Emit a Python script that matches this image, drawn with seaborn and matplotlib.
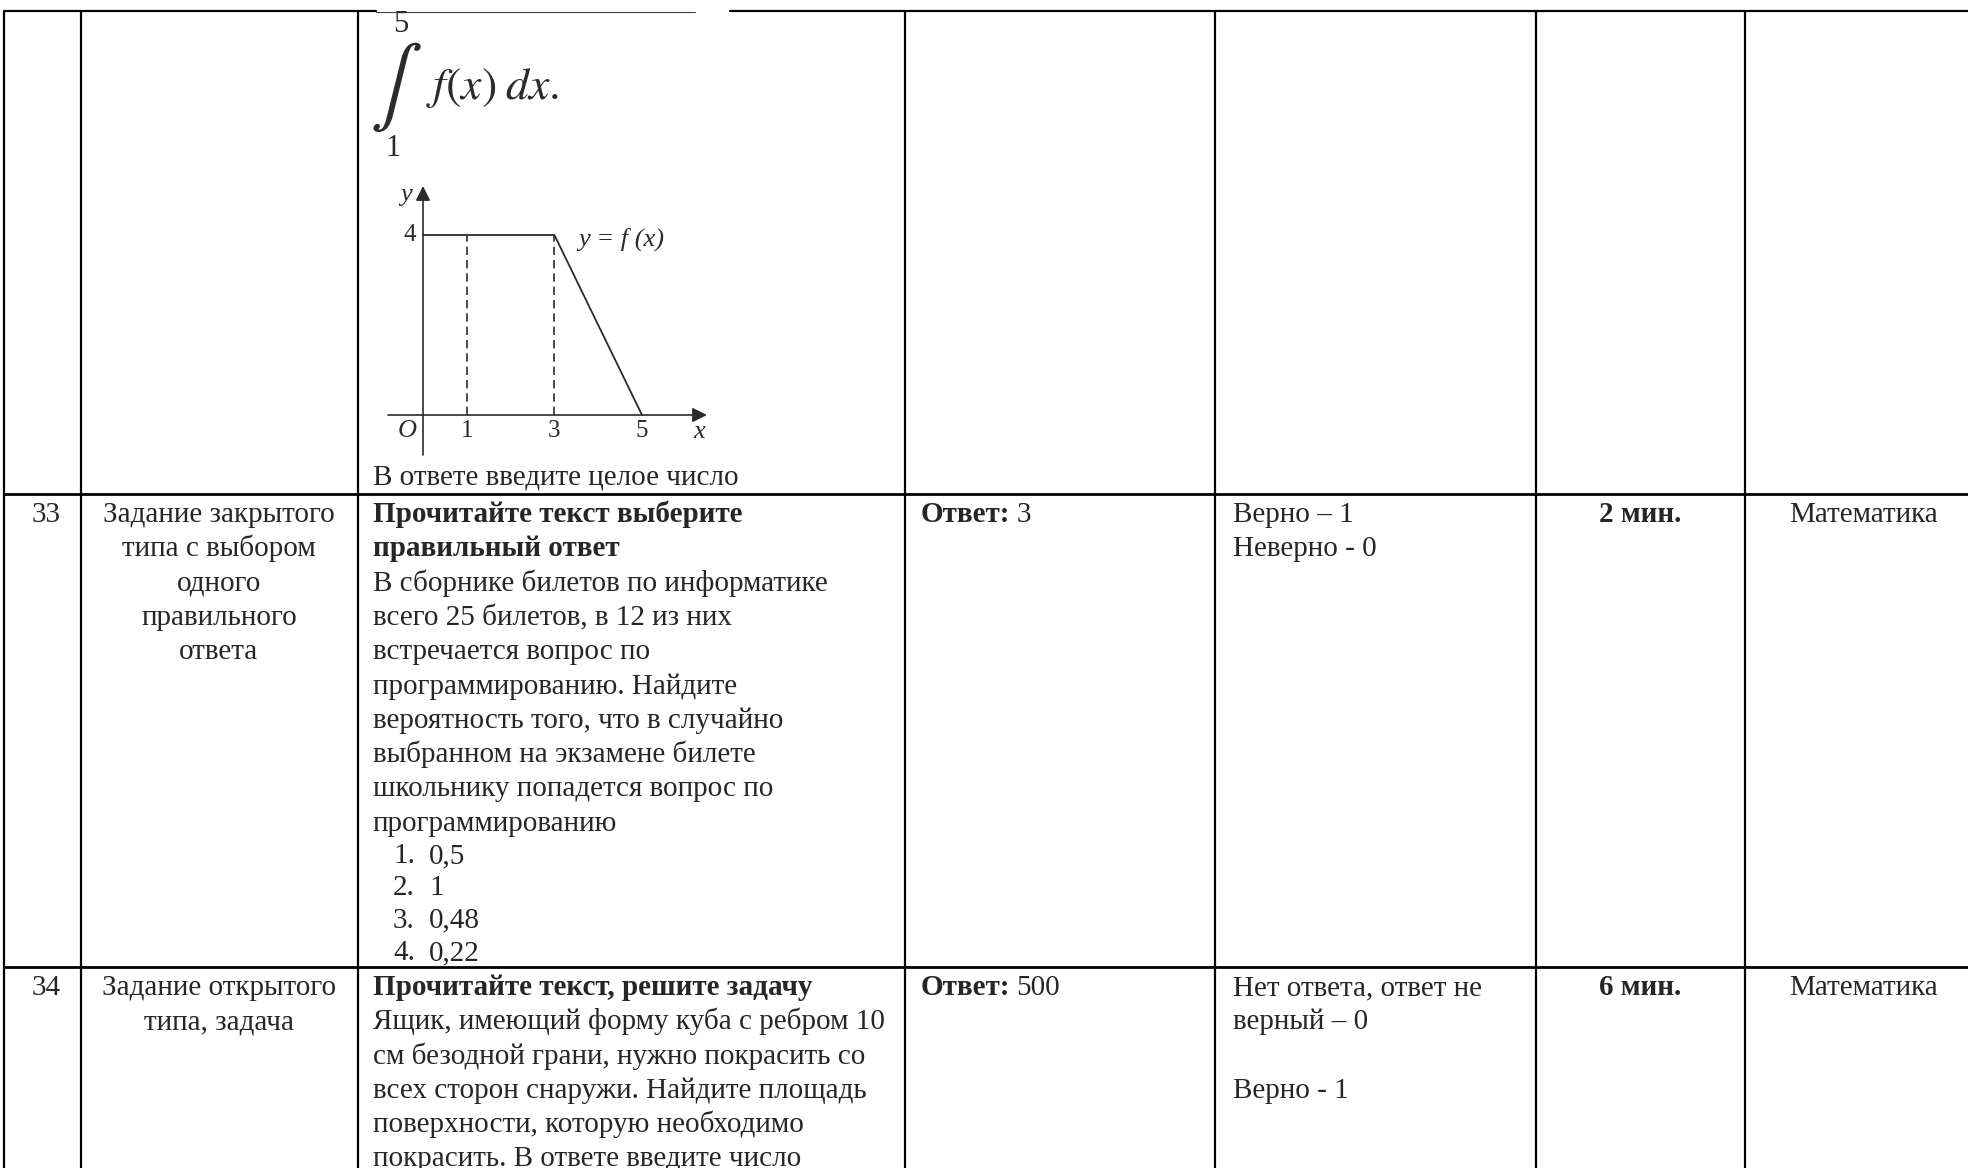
import numpy as np
import pandas as pd
import matplotlib.pyplot as plt
import seaborn as sns

# ---- page layout (pixels) ----
col_edges = [4, 81, 358, 905, 1215, 1536, 1745]
row_edges = [11, 494, 967]

# ---- embedded graph of f(x) ----
f_x = [0, 3, 5]
f_y = [4, 4, 0]
dash_x = [1, 3]
tick_x = [1, 3, 5]
tick_y = [4]

# ---- table content ----
top_note = "В ответе введите целое число"

task_num = ["33", "34"]
task_type = [["Задание закрытого", "типа с выбором", "одного", "правильного", "ответа"],
             ["Задание открытого", "типа, задача"]]
task_head = [["Прочитайте текст выберите", "правильный ответ"],
             ["Прочитайте текст, решите задачу"]]
task_body = [["В сборнике билетов по информатике", "всего 25 билетов, в 12 из них",
              "встречается вопрос по", "программированию. Найдите",
              "вероятность того, что в случайно", "выбранном на экзамене билете",
              "школьнику попадется вопрос по", "программированию"],
             ["Ящик, имеющий форму куба с ребром 10", "см безодной грани, нужно покрасить со",
              "всех сторон снаружи. Найдите площадь", "поверхности, которую необходимо",
              "покрасить. В ответе введите число"]]
options_33 = ["0,5", "1", "0,48", "0,22"]
answers = ["3", "500"]
scoring = [["Верно – 1", "Неверно - 0"],
           ["Нет ответа, ответ не", "верный – 0", "", "Верно - 1"]]
times = ["2 мин.", "6 мин."]
subject = ["Математика", "Математика"]

sns.set_theme(style="white")
plt.rcParams['font.family'] = ['Liberation Serif', 'DejaVu Serif']

W, H = 1968, 1168
fig = plt.figure(figsize=(W / 100, H / 100), dpi=100)
ax = fig.add_axes([0, 0, 1, 1])
ax.set_xlim(0, W)
ax.set_ylim(H, 0)
ax.axis('off')

FS = 21
LINE = 34.3
lw = 1.6

# grid lines
for x in col_edges:
    ax.plot([x, x], [row_edges[0], H], color='black', lw=lw, solid_capstyle='butt')
ax.plot([col_edges[0], 376], [row_edges[0]] * 2, color='black', lw=lw)
ax.plot([376, 695], [row_edges[0] + 1] * 2, color='#444444', lw=0.8)
ax.plot([730, W], [row_edges[0]] * 2, color='black', lw=lw)
for y in row_edges[1:]:
    ax.plot([col_edges[0], W], [y, y], color='black', lw=lw + 0.4)

ax.text(col_edges[2] + 15, row_edges[1] - 10, top_note, fontsize=FS, va='baseline')

fig.canvas.draw()
renderer = fig.canvas.get_renderer()

for i in range(2):
    base = row_edges[i + 1] + 28
    ax.text(46, base, task_num[i], fontsize=FS, ha='center', va='baseline')
    for k, s in enumerate(task_type[i]):
        ax.text(219, base + k * LINE, s, fontsize=FS, ha='center', va='baseline')
    k = 0
    for s in task_head[i]:
        ax.text(col_edges[2] + 15, base + k * LINE, s, fontsize=FS, fontweight='bold', va='baseline')
        k += 1
    for s in task_body[i]:
        ax.text(col_edges[2] + 15, base + k * LINE, s, fontsize=FS, va='baseline')
        k += 1
    if i == 0:
        y0 = base + (k - 1) * LINE
        for j, s in enumerate(options_33):
            yy = y0 + (j + 1) * 32.3
            ax.text(col_edges[2] + 35, yy, f"{j + 1}.", fontsize=FS, va='baseline')
            ax.text(col_edges[2] + 71, yy, s, fontsize=FS, va='baseline')
    t = ax.text(col_edges[3] + 16, base, "Ответ:", fontsize=FS, fontweight='bold', va='baseline')
    bb = t.get_window_extent(renderer)
    ax.text(col_edges[3] + 16 + bb.width + 6, base, answers[i], fontsize=FS, va='baseline')
    for k, s in enumerate(scoring[i]):
        ax.text(col_edges[4] + 18, base + k * LINE, s, fontsize=FS, va='baseline')
    ax.text(1640, base, times[i], fontsize=FS, fontweight='bold', ha='center', va='baseline')
    ax.text(1864, base, subject[i], fontsize=FS, ha='center', va='baseline')

# ---- integral ----
ink = '#2b2b2b'
ax.text(396, 87, r'$\int$', fontsize=56, math_fontfamily='stix', ha='center', va='center', color=ink)
ax.text(401, 25, "5", fontsize=22, ha='center', va='center', color=ink)
ax.text(393, 149, "1", fontsize=22, ha='center', va='center', color=ink)
ax.text(426, 88, r'$f(x)\;dx.$', fontsize=33, math_fontfamily='stix', ha='left', va='center', color=ink)

# ---- graph ----
ox, sx = 423, 43.8
oy, sy = 415, 45.0
left_px, right_px, top_px, bot_px = 388, 707, 186, 455
g = fig.add_axes([left_px / W, 1 - bot_px / H, (right_px - left_px) / W, (bot_px - top_px) / H])
g.set_xlim((left_px - ox) / sx, (right_px - ox) / sx)
g.set_ylim((oy - bot_px) / sy, (oy - top_px) / sy)
g.axis('off')
g.patch.set_alpha(0)

xl = g.get_xlim()
yl = g.get_ylim()
g.annotate('', xy=(xl[1], 0), xytext=(xl[0], 0),
           arrowprops=dict(arrowstyle='-|>', color=ink, lw=1.2, mutation_scale=22, shrinkA=0, shrinkB=0))
g.annotate('', xy=(0, yl[1]), xytext=(0, yl[0]),
           arrowprops=dict(arrowstyle='-|>', color=ink, lw=1.2, mutation_scale=22, shrinkA=0, shrinkB=0))
sns.lineplot(x=f_x, y=f_y, ax=g, color=ink, lw=1.3)
g.vlines(dash_x, 0, 4, colors=ink, linestyles=(0, (5, 3)), lw=1.2)

for v in tick_x:
    g.text(v, -0.36, str(v), fontsize=18, ha='center', va='center', color=ink)
for v in tick_y:
    g.text(-0.3, v, str(v), fontsize=18, ha='center', va='center', color=ink)
g.text(-0.36, -0.36, "O", fontsize=19, style='italic', ha='center', va='center', color=ink)
g.text(6.3, -0.38, "x", fontsize=19, style='italic', ha='center', va='center', color=ink)
g.text(-0.38, 4.9, "y", fontsize=19, style='italic', ha='center', va='center', color=ink)
g.text(3.55, 3.9, "y = f (x)", fontsize=19, style='italic', ha='left', va='center', color=ink)

fig.savefig("out.png", dpi=100)
plt.close(fig)
